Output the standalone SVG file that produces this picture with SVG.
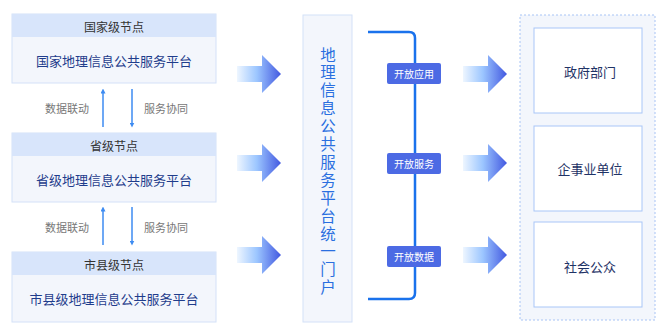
<svg xmlns="http://www.w3.org/2000/svg" width="660" height="326" viewBox="0 0 660 326">
<defs>
<linearGradient id="ag" x1="0" y1="0" x2="1" y2="0">
<stop offset="0" stop-color="#eef6ff"/>
<stop offset="0.45" stop-color="#9cc6ff"/>
<stop offset="1" stop-color="#4258e0"/>
</linearGradient>
<marker id="ah" viewBox="0 0 6 6" refX="3" refY="3" markerWidth="5" markerHeight="5" orient="auto-start-reverse" markerUnits="userSpaceOnUse">
<path d="M0,0 L6,3 L0,6 z" fill="#3d8bf2"/>
</marker>
</defs>
<style>
text{font-family:"Noto Sans CJK SC","Noto Sans",sans-serif;text-anchor:middle;dominant-baseline:central}
.hdr{fill:#d8e5fb}
.body{fill:#f3f6fc;stroke:#d4e1f8;stroke-width:1}
.ht{font-size:12px;fill:#333}
.bt{font-size:13px;fill:#1f3d8c}
.lt{font-size:11px;fill:#777}
.vl{stroke:#3d8bf2;stroke-width:1.5;fill:none}
.big{fill:url(#ag)}
.tag{fill:#4c6ae4}
.tagt{font-size:10px;fill:#fff}
.ib{fill:#fff;stroke:#a9c6f7;stroke-width:1}
.it{font-size:13px;fill:#1f3366}
.vt{font-family:"Liberation Sans","Noto Sans CJK SC",sans-serif;font-size:15.5px;fill:#2a6fe0}
</style>
<g id="node-national">
<rect class="body" x="12" y="14" width="204" height="69"/>
<rect class="hdr" x="12" y="14" width="204" height="23"/>
<text class="ht" x="114" y="26">国家级节点</text>
<text class="bt" x="114" y="60">国家地理信息公共服务平台</text>
</g>
<g id="node-province">
<rect class="body" x="12" y="133" width="204" height="69"/>
<rect class="hdr" x="12" y="133" width="204" height="23"/>
<text class="ht" x="114" y="145">省级节点</text>
<text class="bt" x="114" y="179">省级地理信息公共服务平台</text>
</g>
<g id="node-city">
<rect class="body" x="12" y="252" width="204" height="70"/>
<rect class="hdr" x="12" y="252" width="204" height="23"/>
<text class="ht" x="114" y="264">市县级节点</text>
<text class="bt" x="114" y="298">市县级地理信息公共服务平台</text>
</g>
<g id="node-portal">
<rect class="body" x="303" y="15" width="49" height="307"/>
<text class="vt" x="328" y="55">地</text>
<text class="vt" x="328" y="72.9">理</text>
<text class="vt" x="328" y="90.8">信</text>
<text class="vt" x="328" y="108.7">息</text>
<text class="vt" x="328" y="126.6">公</text>
<text class="vt" x="328" y="144.5">共</text>
<text class="vt" x="328" y="162.4">服</text>
<text class="vt" x="328" y="180.3">务</text>
<text class="vt" x="328" y="198.2">平</text>
<text class="vt" x="328" y="216.1">台</text>
<text class="vt" x="328" y="234">统</text>
<text class="vt" x="328" y="251.9">一</text>
<text class="vt" x="328" y="269.8">门</text>
<text class="vt" x="328" y="287.7">户</text>
</g>
<g id="users">
<rect x="520" y="15" width="135" height="305" fill="#f3f6fc" stroke="#a8c4f5" stroke-width="1" stroke-dasharray="2,2"/>
<g id="node-gov">
<rect class="ib" x="534" y="28" width="108" height="85"/>
<text class="it" x="590" y="71">政府部门</text>
</g>
<g id="node-enterprise">
<rect class="ib" x="534" y="126" width="108" height="85"/>
<text class="it" x="590" y="168">企事业单位</text>
</g>
<g id="node-public">
<rect class="ib" x="534" y="222" width="108" height="85"/>
<text class="it" x="590" y="266">社会公众</text>
</g>
</g>
<g id="connectors">
<line class="vl" x1="103" y1="127" x2="103" y2="91" marker-end="url(#ah)"/>
<line class="vl" x1="132" y1="89" x2="132" y2="125" marker-end="url(#ah)"/>
<text class="lt" x="67" y="108">数据联动</text>
<text class="lt" x="166" y="108">服务协同</text>
<line class="vl" x1="103" y1="245" x2="103" y2="209" marker-end="url(#ah)"/>
<line class="vl" x1="132" y1="207" x2="132" y2="243" marker-end="url(#ah)"/>
<text class="lt" x="67" y="227">数据联动</text>
<text class="lt" x="166" y="227">服务协同</text>
<path class="big" d="M237,66 H262 V55 L281,74 L262,93 V82 H237 Z"/>
<path class="big" d="M237,155 H262 V144 L281,163 L262,182 V171 H237 Z"/>
<path class="big" d="M237,247 H262 V236 L281,255 L262,274 V263 H237 Z"/>
<path d="M368,32 H409 Q415,32 415,38 V293 Q415,299 409,299 H368" fill="none" stroke="#1a72ec" stroke-width="2.5"/>
<rect class="tag" x="387" y="63" width="54" height="21" rx="2"/>
<text class="tagt" x="414" y="73.5">开放应用</text>
<rect class="tag" x="387" y="153" width="54" height="21" rx="2"/>
<text class="tagt" x="414" y="163.5">开放服务</text>
<rect class="tag" x="387" y="246" width="54" height="21" rx="2"/>
<text class="tagt" x="414" y="256.5">开放数据</text>
<path class="big" d="M463,66 H488 V55 L507,74 L488,93 V82 H463 Z"/>
<path class="big" d="M463,155 H488 V144 L507,163 L488,182 V171 H463 Z"/>
<path class="big" d="M463,247 H488 V236 L507,255 L488,274 V263 H463 Z"/>
</g>
</svg>
